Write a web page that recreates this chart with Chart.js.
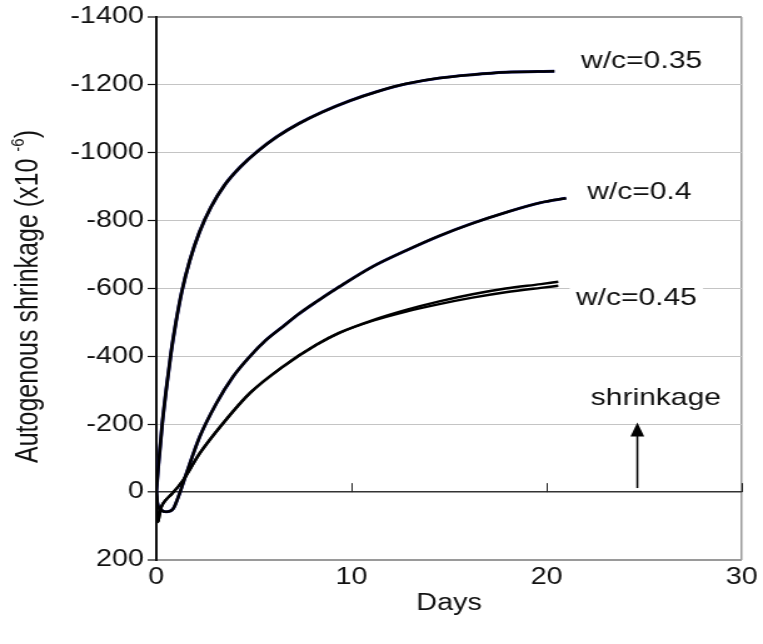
<!DOCTYPE html>
<html>
<head>
<meta charset="utf-8">
<script src="https://cdn.jsdelivr.net/npm/chart.js@4.4.1/dist/chart.umd.min.js"></script>
<style>
  html, body { margin: 0; padding: 0; background: #fff; overflow: hidden; }
  /* chart is laid out narrow and widened, giving the broad lettering */
  #wrap { width: 610px; height: 644px; transform: scaleX(1.2508); transform-origin: 0 0; }
</style>
</head>
<body>
<div id="wrap"><canvas id="chart" width="610" height="644"></canvas></div>
<script>
// autogenous shrinkage (x10^-6), negative = shrinkage
const days035   = [0, 0.1, 0.3, 0.5, 0.75, 1.0, 1.3, 1.7, 2.2, 2.8, 3.5, 4.3, 5.2, 6.2, 7.3, 8.5, 9.9, 11.3, 12.8, 14.5, 16.2, 17.9, 20.4];
const shrink035 = [0, -75, -200, -300, -410, -500, -590, -680, -765, -840, -905, -958, -1005, -1048, -1086, -1120, -1153, -1180, -1203, -1220, -1230, -1237, -1240];

const days040   = [0, 0.05, 0.26, 0.51, 0.85, 1.19, 1.54, 2.22, 3.08, 3.93, 4.78, 5.6, 6.49, 7.3, 8.2, 9.4, 11.1, 12.8, 14.5, 16.2, 17.9, 19.7, 21.0];
const shrink040 = [0, 30, 53, 58, 50, 4, -55, -163, -262, -340, -399, -447, -488, -525, -561, -606, -665, -712, -755, -792, -824, -853, -866];

const days045    = [0, 0.04, 0.08, 0.15, 0.26, 0.5, 0.8, 1.37, 2.22, 3.42, 4.78, 6.49, 8.2, 9.4, 11.1, 12.8, 14.5, 16.2, 17.9, 19.7, 20.6];
const shrink045a = [0, 60, 88, 70, 43, 22, 5, -35, -114, -203, -291, -370, -434, -470, -507, -537, -562, -583, -600, -613, -620];
const shrink045b = [0, 60, 88, 70, 43, 22, 5, -35, -114, -203, -291, -370, -434, -470, -505, -532, -554, -573, -589, -602, -608];

const xTicks = [0, 10, 20, 30];
const yMin = -1400, yMax = 200, yStep = 200;

const FONT = '"Liberation Sans", Arial, sans-serif';

const pts = (xs, ys) => xs.map((d, i) => ({ x: d, y: ys[i] }));

function line(data, color, width, order) {
  return {
    data: data,
    borderColor: color,
    borderWidth: width,
    pointRadius: 0,
    fill: false,
    cubicInterpolationMode: 'monotone',
    order: order
  };
}

// text notes and arrow, placed in data units
const notes = [
  { text: 'w/c=0.35', day: 24.87, val: -1268 },
  { text: 'w/c=0.4',  day: 24.75, val: -882 },
  { text: 'w/c=0.45', day: 24.6,  val: -572 },
  { text: 'shrinkage', day: 25.6, val: -277 }
];

const decorations = {
  id: 'decorations',
  afterDatasetsDraw(chart) {
    const { ctx, scales: { x, y }, chartArea } = chart;
    ctx.save();

    // tick marks sit on the zero line
    const y0 = y.getPixelForValue(0);
    ctx.strokeStyle = '#222';
    ctx.lineWidth = 1;
    xTicks.slice(1).forEach(d => {
      const px = Math.round(x.getPixelForValue(d)) + 0.5;
      ctx.beginPath();
      ctx.moveTo(px, y0);
      ctx.lineTo(px, y0 - 9);
      ctx.stroke();
    });

    // labels on white boxes
    ctx.font = '24px ' + FONT;
    ctx.textAlign = 'center';
    ctx.textBaseline = 'middle';
    notes.forEach(n => {
      const px = x.getPixelForValue(n.day);
      const py = y.getPixelForValue(n.val);
      const w = ctx.measureText(n.text).width + 10;
      ctx.fillStyle = '#fff';
      ctx.fillRect(px - w / 2, py - 13, w, 26);
      ctx.fillStyle = '#111';
      ctx.fillText(n.text, px, py);
    });

    // arrow pointing up
    const ax = x.getPixelForValue(24.65);
    const aBot = y.getPixelForValue(-12);
    const aTop = y.getPixelForValue(-205);
    ctx.strokeStyle = '#000';
    ctx.lineWidth = 1.6;
    ctx.beginPath();
    ctx.moveTo(ax, aBot);
    ctx.lineTo(ax, aTop + 10);
    ctx.stroke();
    ctx.fillStyle = '#000';
    ctx.beginPath();
    ctx.moveTo(ax, aTop);
    ctx.lineTo(ax - 5.5, aTop + 14);
    ctx.lineTo(ax + 5.5, aTop + 14);
    ctx.closePath();
    ctx.fill();

    // y axis title with superscript exponent
    const cy = (chartArea.top + chartArea.bottom) / 2 + 8;
    ctx.translate(23, cy);
    ctx.rotate(-Math.PI / 2);
    ctx.textAlign = 'left';
    ctx.textBaseline = 'middle';
    const main = 'Autogenous shrinkage (x10 ';
    const sup = '-6';
    ctx.font = '25px ' + FONT;
    const wMain = ctx.measureText(main).width;
    const wClose = ctx.measureText(')').width;
    ctx.font = '15px ' + FONT;
    const wSup = ctx.measureText(sup).width;
    const x0 = -(wMain + wSup + wClose) / 2;
    ctx.fillStyle = '#111';
    ctx.font = '25px ' + FONT;
    ctx.fillText(main, x0, 0);
    ctx.font = '15px ' + FONT;
    ctx.fillText(sup, x0 + wMain, -8);
    ctx.font = '25px ' + FONT;
    ctx.fillText(')', x0 + wMain + wSup, 0);

    ctx.restore();
  }
};

new Chart(document.getElementById('chart'), {
  type: 'line',
  data: {
    datasets: [
      line(pts(days035, shrink035), '#000', 2.6, 1),
      line(pts(days035, shrink035), '#1c1c8c', 2.9, 2),
      line(pts(days040, shrink040), '#000', 2.5, 1),
      line(pts(days040, shrink040), '#1c1c8c', 2.8, 2),
      line(pts(days045, shrink045a), '#000', 2.4, 1),
      line(pts(days045, shrink045b), '#000', 2.4, 1)
    ]
  },
  options: {
    responsive: false,
    devicePixelRatio: 1,
    animation: false,
    layout: { padding: { top: 17, right: 17, left: 0, bottom: 0 } },
    plugins: { legend: { display: false }, tooltip: { enabled: false } },
    scales: {
      x: {
        type: 'linear',
        min: 0,
        max: 30,
        afterBuildTicks: s => { s.ticks = xTicks.map(v => ({ value: v })); },
        afterFit: s => { s.height = 84; },
        border: { display: false },
        grid: {
          drawTicks: false,
          color: c => (c.tick && c.tick.value === 30) ? '#9a9a9a' : 'rgba(0,0,0,0)',
          lineWidth: 1.5
        },
        ticks: { color: '#111', font: { size: 23, family: FONT }, padding: 4 },
        title: { display: true, text: 'Days', color: '#111', font: { size: 23, family: FONT }, padding: { top: 0, bottom: 27 } }
      },
      y: {
        min: yMin,
        max: yMax,
        reverse: true,
        afterFit: s => { s.width = 125; },
        border: { display: true, color: '#111', width: 2 },
        grid: {
          color: c => (c.tick && c.tick.value === 0) ? '#333' : (c.tick && (c.tick.value === yMin || c.tick.value === yMax) ? '#9a9a9a' : '#c4c4c4'),
          lineWidth: c => (c.tick && c.tick.value === 0) ? 1.6 : (c.tick && (c.tick.value === yMin || c.tick.value === yMax) ? 2 : 1),
          tickColor: '#111',
          tickLength: 7,
          tickWidth: 1.2
        },
        ticks: {
          stepSize: yStep,
          color: '#111',
          font: { size: 23, family: FONT },
          padding: 3,
          callback: v => String(v)
        }
      }
    }
  },
  plugins: [decorations]
});
</script>
</body>
</html>
